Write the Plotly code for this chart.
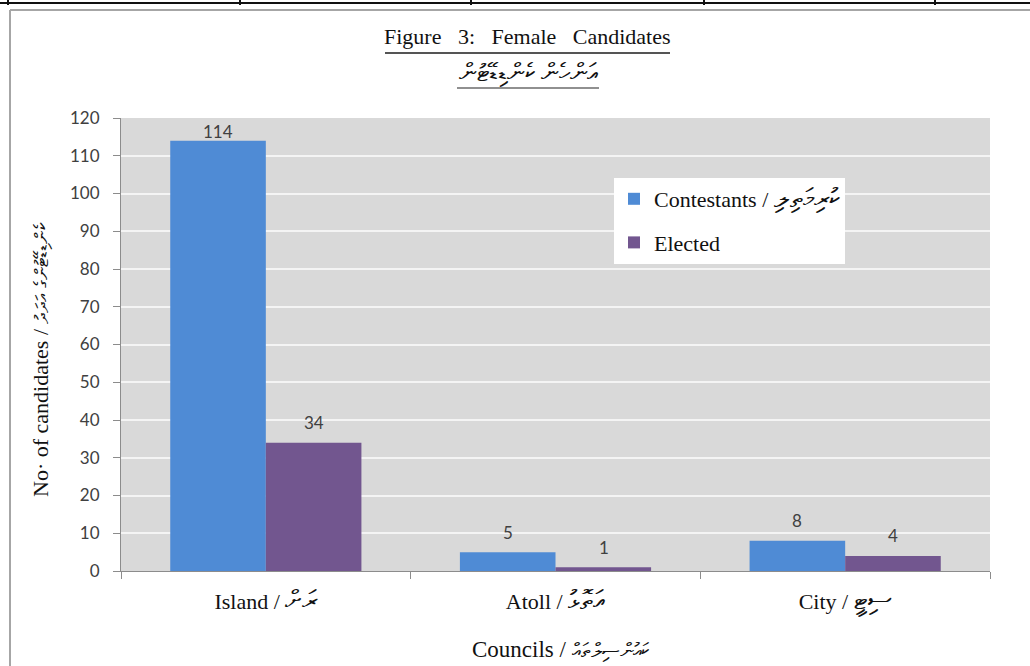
import plotly.graph_objects as go

categories = ["Island", "Atoll", "City"]
categories_dv = ["ރަށް", "އަތޮޅު", "ސިޓީ"]
contestants = [114, 5, 8]
elected = [34, 1, 4]
series_names = ["Contestants", "Elected"]
series_names_dv = ["ކުރިމަތިލި", ""]
y_ticks = [0, 10, 20, 30, 40, 50, 60, 70, 80, 90, 100, 110, 120]

title_text = "Figure   3:   Female   Candidates"
subtitle_text = "އަންހެން ކެންޑިޑޭޓުން"
y_title = ("No· of candidates", "ކެންޑިޑޭޓުންގެ އަދަދު")
x_title = ("Councils", "ކައުންސިލްތައް")

FIG_W, FIG_H = 1030, 666
L, R, T, B = 121, 40, 118, 95
PW, PH = FIG_W - L - R, FIG_H - T - B
BOTTOM = FIG_H - B


def px(x):
    return (x - L) / PW


def py(y):
    return (BOTTOM - y) / PH


def mixed(latin, thaana, size):
    if not thaana:
        return latin
    return f"{latin} / <span style='font-size:{size}px'>{thaana}</span>"


SERIF = "Liberation Serif, Times New Roman, serif"
SANS = "Lato, Carlito, Calibri, sans-serif"

BLUE = "#4F8BD5"
PURPLE = "#72568F"

x_labels = [mixed(c, d, 27) for c, d in zip(categories, categories_dv)]
names = [mixed(n, d, 27) for n, d in zip(series_names, series_names_dv)]

fig = go.Figure()
fig.add_trace(go.Bar(
    x=x_labels, y=contestants, name=names[0], marker_color=BLUE,
    marker_line_width=0, legendgroup="a",
))
fig.add_trace(go.Bar(
    x=x_labels, y=elected, name=names[1], marker_color=PURPLE,
    marker_line_width=0, legendgroup="b",
))

BAR_HALF = 48
annotations = []
for vals, sgn in ((contestants, -1), (elected, 1)):
    for xl, v in zip(x_labels, vals):
        pix_top = v * PH / 120
        shift = min(20, (BOTTOM - 131) - pix_top)
        annotations.append(dict(
            x=xl, y=v, xref="x", yref="y", text=str(v), showarrow=False,
            xshift=sgn * BAR_HALF, yshift=shift, xanchor="center", yanchor="middle",
            font=dict(family=SANS, size=17, color="#404040")))

shapes = []
# top table line and ticks
shapes.append(dict(type="line", xref="paper", yref="paper", x0=px(0), x1=px(FIG_W),
                   y0=py(3), y1=py(3), line=dict(color="#111", width=2)))
for xv in [8, 240, 471, 704, 935]:
    shapes.append(dict(type="line", xref="paper", yref="paper", x0=px(xv), x1=px(xv),
                       y0=py(0), y1=py(5), line=dict(color="#111", width=2)))
# chart frame
shapes.append(dict(type="line", xref="paper", yref="paper", x0=px(10), x1=px(FIG_W),
                   y0=py(10), y1=py(10), line=dict(color="#a6a6a6", width=2)))
shapes.append(dict(type="line", xref="paper", yref="paper", x0=px(10), x1=px(10),
                   y0=py(10), y1=py(FIG_H), line=dict(color="#a6a6a6", width=2)))
# title underlines
shapes.append(dict(type="line", xref="paper", yref="paper", x0=px(385), x1=px(670),
                   y0=py(53), y1=py(53), line=dict(color="#555", width=2)))
shapes.append(dict(type="line", xref="paper", yref="paper", x0=px(457), x1=px(599),
                   y0=py(88), y1=py(88), line=dict(color="#222", width=1.2)))

annotations += [
    dict(text=title_text, x=px(527), y=py(37), xref="paper", yref="paper",
         xanchor="center", yanchor="middle",
         showarrow=False, font=dict(family=SERIF, size=22, color="#111")),
    dict(text=subtitle_text, x=px(528), y=py(73), xref="paper", yref="paper",
         xanchor="center", yanchor="middle",
         showarrow=False, font=dict(family=SERIF, size=25, color="#111")),
    dict(text=mixed(y_title[0], y_title[1], 19), x=px(40), y=py(360),
         xref="paper", yref="paper", xanchor="center", yanchor="middle",
         showarrow=False, textangle=-90, font=dict(family=SERIF, size=22, color="#111")),
    dict(text=mixed(x_title[0], x_title[1], 20), x=px(560), y=py(649),
         xref="paper", yref="paper", xanchor="center", yanchor="middle",
         showarrow=False, font=dict(family=SERIF, size=23, color="#111")),
]

fig.update_layout(
    width=FIG_W, height=FIG_H,
    margin=dict(l=L, r=R, t=T, b=B),
    paper_bgcolor="white", plot_bgcolor="#d9d9d9",
    barmode="group", bargap=0.34, bargroupgap=0,
    showlegend=True,
    legend=dict(x=px(614), y=py(178), xanchor="left", yanchor="top",
                bgcolor="white", font=dict(family=SERIF, size=22, color="#111"),
                traceorder="grouped", tracegroupgap=12, itemwidth=30,
                borderwidth=0),
    shapes=shapes, annotations=annotations,
    xaxis=dict(showline=True, linecolor="#8c8c8c", linewidth=1, ticks="outside",
               tickson="boundaries", ticklen=7, tickcolor="#8c8c8c",
               tickfont=dict(family=SERIF, size=22, color="#111"),
               showgrid=False, ticklabelstandoff=11),
    yaxis=dict(range=[0, 120], tickvals=y_ticks, showline=True, linecolor="#8c8c8c",
               linewidth=1, ticks="outside", ticklen=7, tickcolor="#8c8c8c",
               tickfont=dict(family=SANS, size=17, color="#404040"),
               gridcolor="#f4f4f4", gridwidth=2, zeroline=False,
               ticklabelstandoff=10),
)

fig.write_html("out.html", config={"displayModeBar": False})
with open("out.html", "r", encoding="utf-8") as f:
    html = f.read()
html = html.replace("<head>", "<head><style>body{margin:0;overflow:hidden}</style>", 1)
with open("out.html", "w", encoding="utf-8") as f:
    f.write(html)
